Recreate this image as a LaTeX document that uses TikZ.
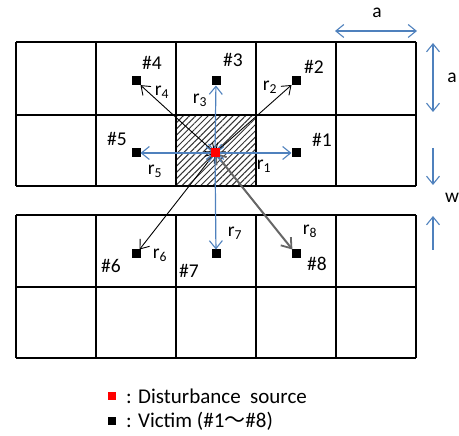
\documentclass[tikz,border=0pt]{standalone}
\usepackage{fontspec}
\setmainfont{Carlito}
\newfontfamily\cjkfont{Noto Sans CJK JP}
\usetikzlibrary{arrows.meta,patterns.meta}
\newcommand\rsub[1]{r\textsubscript{#1}}
\tikzset{
  gridline/.style={line width=1.6pt, black},
  vic/.style={fill=black, minimum size=9pt, inner sep=0pt, outer sep=0pt},
  src/.style={fill=red, minimum size=9pt, inner sep=0pt, outer sep=0pt},
  lbl/.style={font=\fontsize{19.5}{22}\selectfont, inner sep=0pt},
  leg/.style={font=\fontsize{21}{24}\selectfont, inner sep=0pt},
  bluearr/.style={draw={rgb,255:red,79;green,129;blue,189}, line width=1.2pt, {Straight Barb[length=8pt,width=13pt,line width=1.1pt]}-{Straight Barb[length=8pt,width=13pt,line width=1.1pt]}},
  blackarr/.style={draw=black, line width=0.9pt, {Straight Barb[length=8pt,width=12pt,line width=0.9pt]}-{Straight Barb[length=8pt,width=12pt,line width=0.9pt]}},
  grayarr/.style={draw=black!60, line width=2pt, {Straight Barb[length=9pt,width=13pt,line width=1.8pt]}-{Straight Barb[length=9pt,width=13pt,line width=1.8pt]}},
  dimarr/.style={draw={rgb,255:red,79;green,129;blue,189}, line width=1.1pt, -{Straight Barb[length=8pt,width=13pt,line width=1.1pt]}},
  dimarr2/.style={draw={rgb,255:red,79;green,129;blue,189}, line width=1.1pt, {Straight Barb[length=8pt,width=13pt,line width=1.1pt]}-{Straight Barb[length=8pt,width=13pt,line width=1.1pt]}},
}
\begin{document}
\begin{tikzpicture}[x=1pt,y=-1pt]
\useasboundingbox (0,0) rectangle (459,436);
% hatched centre cell
\fill[white] (176,115) rectangle (256,186);
\fill[pattern={Lines[angle=45, distance=4.4pt, line width=1pt]}, pattern color=black!80] (176,115) rectangle (256,186);
% grid
\foreach \yy/\yb in {42/186, 215/358} {
  \foreach \xx in {16,96,176,256,336,416} \draw[gridline] (\xx,\yy) -- (\xx,\yb);
}
\foreach \yy in {42,115,186,215,287,358} \draw[gridline] (16,\yy) -- (416,\yy);
% nodes
\node[vic] (v1) at (296,153) {};
\node[vic] (v2) at (296,81) {};
\node[vic] (v3) at (216,81) {};
\node[vic] (v4) at (136,81) {};
\node[vic] (v5) at (136,153) {};
\node[vic] (v6) at (136,254) {};
\node[vic] (v7) at (216,254) {};
\node[vic] (v8) at (296,254) {};
% arrows
\draw[blackarr] (215,153) -- (v4);
\draw[blackarr] (215,153) -- (v2);
\draw[blackarr] (215,153) -- (v6);
\draw[grayarr] (215,153) -- (v8);
\draw[bluearr] (215,153) -- (v1);
\draw[bluearr] (215,153) -- (v3);
\draw[bluearr] (215,153) -- (v5);
\draw[bluearr] (215,153) -- (v7);
\node[src] (s) at (215,153) {};
% labels
\node[lbl] (l1) at (322,140) {\#1};
\node[lbl] (l2) at (314,67) {\#2};
\node[lbl] (l3) at (233,60) {\#3};
\node[lbl] (l4) at (152,63) {\#4};
\node[lbl] (l5) at (117,139) {\#5};
\node[lbl] (l6) at (111,266) {\#6};
\node[lbl] (l7) at (189,271) {\#7};
\node[lbl] (l8) at (317,264) {\#8};
\node[lbl] (r1) at (264,166) {\rsub{1}};
\node[lbl] (r2) at (270,87) {\rsub{2}};
\node[lbl] (r3) at (200,100) {\rsub{3}};
\node[lbl] (r4) at (162,92) {\rsub{4}};
\node[lbl] (r5) at (155,171) {\rsub{5}};
\node[lbl] (r6) at (160,255) {\rsub{6}};
\node[lbl] (r7) at (235,233) {\rsub{7}};
\node[lbl] (r8) at (310,231) {\rsub{8}};
% dimensions
\coordinate (ha) at (335,31);
\coordinate (hb) at (417,31);
\draw[dimarr2] (ha) -- (hb);
\node[lbl] (la) at (377,13) {a};
\coordinate (va) at (433,43);
\coordinate (vb) at (433,112);
\draw[dimarr2] (va) -- (vb);
\node[lbl] (la2) at (452,78) {a};
\coordinate (wa) at (433,148);
\coordinate (wb) at (433,185);
\draw[dimarr] (wa) -- (wb);
\coordinate (wc) at (433,250);
\coordinate (wd) at (433,216);
\draw[dimarr] (wc) -- (wd);
\node[lbl] (lw) at (452,198) {w};
% legend
\node[src, minimum size=7.5pt] (ls) at (112,396) {};
\node[leg, anchor=west] (lst) at (126,396) {: Disturbance\ \ source};
\node[vic, minimum size=8pt] (lv) at (112,421) {};
\node[leg, anchor=west] (lvt) at (126,421) {: Victim (\#1{\cjkfont ～}\#8)};
\end{tikzpicture}
\end{document}
